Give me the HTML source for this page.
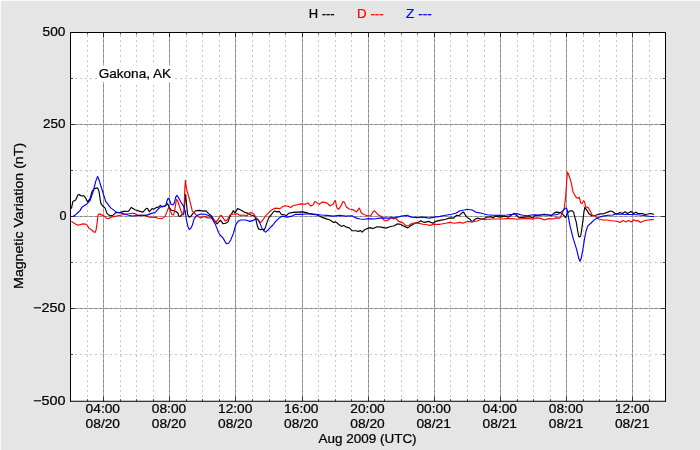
<!DOCTYPE html>
<html><head><meta charset="utf-8"><title>Gakona, AK magnetometer</title>
<style>
html,body{margin:0;padding:0;background:#e5e5e5;}
body{width:700px;height:450px;overflow:hidden;font-family:"Liberation Sans",sans-serif;}
svg{display:block;will-change:transform;}
svg text{font-family:"Liberation Sans",sans-serif;font-size:12.2px;fill:#000;stroke:#000;stroke-width:0.22px;}
</style></head><body>
<svg width="700" height="450" viewBox="0 0 700 450">
<rect x="0" y="0" width="700" height="450" fill="#e5e5e5"/>
<rect x="0" y="0" width="700" height="1" fill="#fbfbfb"/><rect x="0" y="0" width="1" height="450" fill="#fbfbfb"/>
<rect x="70.5" y="32.5" width="595.0" height="368.8" fill="#fff"/>
<g stroke="#c6c6c6" stroke-width="1" stroke-dasharray="2 3" fill="none">
<line x1="87.50" y1="32.5" x2="87.50" y2="401.2" stroke-dashoffset="2.5"/><line x1="120.50" y1="32.5" x2="120.50" y2="401.2" stroke-dashoffset="2.5"/><line x1="136.50" y1="32.5" x2="136.50" y2="401.2" stroke-dashoffset="2.5"/><line x1="153.50" y1="32.5" x2="153.50" y2="401.2" stroke-dashoffset="2.5"/><line x1="186.50" y1="32.5" x2="186.50" y2="401.2" stroke-dashoffset="2.5"/><line x1="202.50" y1="32.5" x2="202.50" y2="401.2" stroke-dashoffset="2.5"/><line x1="219.50" y1="32.5" x2="219.50" y2="401.2" stroke-dashoffset="2.5"/><line x1="252.50" y1="32.5" x2="252.50" y2="401.2" stroke-dashoffset="2.5"/><line x1="269.50" y1="32.5" x2="269.50" y2="401.2" stroke-dashoffset="2.5"/><line x1="285.50" y1="32.5" x2="285.50" y2="401.2" stroke-dashoffset="2.5"/><line x1="318.50" y1="32.5" x2="318.50" y2="401.2" stroke-dashoffset="2.5"/><line x1="335.50" y1="32.5" x2="335.50" y2="401.2" stroke-dashoffset="2.5"/><line x1="351.50" y1="32.5" x2="351.50" y2="401.2" stroke-dashoffset="2.5"/><line x1="384.50" y1="32.5" x2="384.50" y2="401.2" stroke-dashoffset="2.5"/><line x1="401.50" y1="32.5" x2="401.50" y2="401.2" stroke-dashoffset="2.5"/><line x1="417.50" y1="32.5" x2="417.50" y2="401.2" stroke-dashoffset="2.5"/><line x1="450.50" y1="32.5" x2="450.50" y2="401.2" stroke-dashoffset="2.5"/><line x1="467.50" y1="32.5" x2="467.50" y2="401.2" stroke-dashoffset="2.5"/><line x1="484.50" y1="32.5" x2="484.50" y2="401.2" stroke-dashoffset="2.5"/><line x1="517.50" y1="32.5" x2="517.50" y2="401.2" stroke-dashoffset="2.5"/><line x1="533.50" y1="32.5" x2="533.50" y2="401.2" stroke-dashoffset="2.5"/><line x1="550.50" y1="32.5" x2="550.50" y2="401.2" stroke-dashoffset="2.5"/><line x1="583.50" y1="32.5" x2="583.50" y2="401.2" stroke-dashoffset="2.5"/><line x1="599.50" y1="32.5" x2="599.50" y2="401.2" stroke-dashoffset="2.5"/><line x1="616.50" y1="32.5" x2="616.50" y2="401.2" stroke-dashoffset="2.5"/><line x1="649.50" y1="32.5" x2="649.50" y2="401.2" stroke-dashoffset="2.5"/>
<line x1="70.5" y1="78.5" x2="665.5" y2="78.5" stroke-dashoffset="0.5"/><line x1="70.5" y1="170.5" x2="665.5" y2="170.5" stroke-dashoffset="0.5"/><line x1="70.5" y1="262.5" x2="665.5" y2="262.5" stroke-dashoffset="0.5"/><line x1="70.5" y1="354.5" x2="665.5" y2="354.5" stroke-dashoffset="0.5"/>
</g>
<g stroke="#a8a8a8" stroke-width="1" fill="none">
<line x1="103.50" y1="32.5" x2="103.50" y2="401.2"/><line x1="169.50" y1="32.5" x2="169.50" y2="401.2"/><line x1="235.50" y1="32.5" x2="235.50" y2="401.2"/><line x1="302.50" y1="32.5" x2="302.50" y2="401.2"/><line x1="368.50" y1="32.5" x2="368.50" y2="401.2"/><line x1="434.50" y1="32.5" x2="434.50" y2="401.2"/><line x1="500.50" y1="32.5" x2="500.50" y2="401.2"/><line x1="566.50" y1="32.5" x2="566.50" y2="401.2"/><line x1="632.50" y1="32.5" x2="632.50" y2="401.2"/>
<line x1="70.5" y1="124.5" x2="665.5" y2="124.5"/><line x1="70.5" y1="216.5" x2="665.5" y2="216.5"/><line x1="70.5" y1="308.5" x2="665.5" y2="308.5"/>
</g>
<g stroke="#858585" stroke-width="1" stroke-dasharray="2 3" fill="none">
<line x1="103.50" y1="32.5" x2="103.50" y2="401.2" stroke-dashoffset="2.5"/><line x1="169.50" y1="32.5" x2="169.50" y2="401.2" stroke-dashoffset="2.5"/><line x1="235.50" y1="32.5" x2="235.50" y2="401.2" stroke-dashoffset="2.5"/><line x1="302.50" y1="32.5" x2="302.50" y2="401.2" stroke-dashoffset="2.5"/><line x1="368.50" y1="32.5" x2="368.50" y2="401.2" stroke-dashoffset="2.5"/><line x1="434.50" y1="32.5" x2="434.50" y2="401.2" stroke-dashoffset="2.5"/><line x1="500.50" y1="32.5" x2="500.50" y2="401.2" stroke-dashoffset="2.5"/><line x1="566.50" y1="32.5" x2="566.50" y2="401.2" stroke-dashoffset="2.5"/><line x1="632.50" y1="32.5" x2="632.50" y2="401.2" stroke-dashoffset="2.5"/>
<line x1="70.5" y1="124.5" x2="665.5" y2="124.5" stroke-dashoffset="0.5"/><line x1="70.5" y1="216.5" x2="665.5" y2="216.5" stroke-dashoffset="0.5"/><line x1="70.5" y1="308.5" x2="665.5" y2="308.5" stroke-dashoffset="0.5"/>
</g>
<g stroke="#000" stroke-width="0.7" fill="none">
<line x1="103.50" y1="401.2" x2="103.50" y2="396.8"/><line x1="103.50" y1="32.5" x2="103.50" y2="37.0"/><line x1="169.50" y1="401.2" x2="169.50" y2="396.8"/><line x1="169.50" y1="32.5" x2="169.50" y2="37.0"/><line x1="235.50" y1="401.2" x2="235.50" y2="396.8"/><line x1="235.50" y1="32.5" x2="235.50" y2="37.0"/><line x1="302.50" y1="401.2" x2="302.50" y2="396.8"/><line x1="302.50" y1="32.5" x2="302.50" y2="37.0"/><line x1="368.50" y1="401.2" x2="368.50" y2="396.8"/><line x1="368.50" y1="32.5" x2="368.50" y2="37.0"/><line x1="434.50" y1="401.2" x2="434.50" y2="396.8"/><line x1="434.50" y1="32.5" x2="434.50" y2="37.0"/><line x1="500.50" y1="401.2" x2="500.50" y2="396.8"/><line x1="500.50" y1="32.5" x2="500.50" y2="37.0"/><line x1="566.50" y1="401.2" x2="566.50" y2="396.8"/><line x1="566.50" y1="32.5" x2="566.50" y2="37.0"/><line x1="632.50" y1="401.2" x2="632.50" y2="396.8"/><line x1="632.50" y1="32.5" x2="632.50" y2="37.0"/><line x1="87.50" y1="401.2" x2="87.50" y2="399.1"/><line x1="87.50" y1="32.5" x2="87.50" y2="34.5"/><line x1="120.50" y1="401.2" x2="120.50" y2="399.1"/><line x1="120.50" y1="32.5" x2="120.50" y2="34.5"/><line x1="136.50" y1="401.2" x2="136.50" y2="399.1"/><line x1="136.50" y1="32.5" x2="136.50" y2="34.5"/><line x1="153.50" y1="401.2" x2="153.50" y2="399.1"/><line x1="153.50" y1="32.5" x2="153.50" y2="34.5"/><line x1="186.50" y1="401.2" x2="186.50" y2="399.1"/><line x1="186.50" y1="32.5" x2="186.50" y2="34.5"/><line x1="202.50" y1="401.2" x2="202.50" y2="399.1"/><line x1="202.50" y1="32.5" x2="202.50" y2="34.5"/><line x1="219.50" y1="401.2" x2="219.50" y2="399.1"/><line x1="219.50" y1="32.5" x2="219.50" y2="34.5"/><line x1="252.50" y1="401.2" x2="252.50" y2="399.1"/><line x1="252.50" y1="32.5" x2="252.50" y2="34.5"/><line x1="269.50" y1="401.2" x2="269.50" y2="399.1"/><line x1="269.50" y1="32.5" x2="269.50" y2="34.5"/><line x1="285.50" y1="401.2" x2="285.50" y2="399.1"/><line x1="285.50" y1="32.5" x2="285.50" y2="34.5"/><line x1="318.50" y1="401.2" x2="318.50" y2="399.1"/><line x1="318.50" y1="32.5" x2="318.50" y2="34.5"/><line x1="335.50" y1="401.2" x2="335.50" y2="399.1"/><line x1="335.50" y1="32.5" x2="335.50" y2="34.5"/><line x1="351.50" y1="401.2" x2="351.50" y2="399.1"/><line x1="351.50" y1="32.5" x2="351.50" y2="34.5"/><line x1="384.50" y1="401.2" x2="384.50" y2="399.1"/><line x1="384.50" y1="32.5" x2="384.50" y2="34.5"/><line x1="401.50" y1="401.2" x2="401.50" y2="399.1"/><line x1="401.50" y1="32.5" x2="401.50" y2="34.5"/><line x1="417.50" y1="401.2" x2="417.50" y2="399.1"/><line x1="417.50" y1="32.5" x2="417.50" y2="34.5"/><line x1="450.50" y1="401.2" x2="450.50" y2="399.1"/><line x1="450.50" y1="32.5" x2="450.50" y2="34.5"/><line x1="467.50" y1="401.2" x2="467.50" y2="399.1"/><line x1="467.50" y1="32.5" x2="467.50" y2="34.5"/><line x1="484.50" y1="401.2" x2="484.50" y2="399.1"/><line x1="484.50" y1="32.5" x2="484.50" y2="34.5"/><line x1="517.50" y1="401.2" x2="517.50" y2="399.1"/><line x1="517.50" y1="32.5" x2="517.50" y2="34.5"/><line x1="533.50" y1="401.2" x2="533.50" y2="399.1"/><line x1="533.50" y1="32.5" x2="533.50" y2="34.5"/><line x1="550.50" y1="401.2" x2="550.50" y2="399.1"/><line x1="550.50" y1="32.5" x2="550.50" y2="34.5"/><line x1="583.50" y1="401.2" x2="583.50" y2="399.1"/><line x1="583.50" y1="32.5" x2="583.50" y2="34.5"/><line x1="599.50" y1="401.2" x2="599.50" y2="399.1"/><line x1="599.50" y1="32.5" x2="599.50" y2="34.5"/><line x1="616.50" y1="401.2" x2="616.50" y2="399.1"/><line x1="616.50" y1="32.5" x2="616.50" y2="34.5"/><line x1="649.50" y1="401.2" x2="649.50" y2="399.1"/><line x1="649.50" y1="32.5" x2="649.50" y2="34.5"/><line x1="70.5" y1="124.5" x2="75.0" y2="124.5"/><line x1="665.5" y1="124.5" x2="661.0" y2="124.5"/><line x1="70.5" y1="216.5" x2="75.0" y2="216.5"/><line x1="665.5" y1="216.5" x2="661.0" y2="216.5"/><line x1="70.5" y1="308.5" x2="75.0" y2="308.5"/><line x1="665.5" y1="308.5" x2="661.0" y2="308.5"/><line x1="70.5" y1="78.5" x2="73.0" y2="78.5"/><line x1="665.5" y1="78.5" x2="663.0" y2="78.5"/><line x1="70.5" y1="170.5" x2="73.0" y2="170.5"/><line x1="665.5" y1="170.5" x2="663.0" y2="170.5"/><line x1="70.5" y1="262.5" x2="73.0" y2="262.5"/><line x1="665.5" y1="262.5" x2="663.0" y2="262.5"/><line x1="70.5" y1="354.5" x2="73.0" y2="354.5"/><line x1="665.5" y1="354.5" x2="663.0" y2="354.5"/>
</g>
<rect x="97" y="65.5" width="77" height="16.5" fill="#fff"/>
<text x="98.7" y="77.9" textLength="72.4" lengthAdjust="spacingAndGlyphs">Gakona, AK</text>
<g fill="none" stroke-width="1.15" stroke-linejoin="round" stroke-linecap="butt">
<polyline stroke="#000" points="71.4,208.6 72.9,201.4 75.7,200.0 77.9,195.0 79.3,194.6 81.4,196.0 83.6,195.7 85.7,197.9 87.6,202.1 90.0,198.6 92.1,191.4 94.3,188.6 97.6,187.9 99.0,191.4 100.7,202.9 102.4,205.7 105.0,207.9 107.1,213.6 110.0,215.7 112.9,215.4 115.7,212.6 120.0,212.6 123.6,211.4 128.6,211.1 131.4,207.4 135.0,209.7 139.3,211.1 142.9,212.1 146.4,208.3 147.9,208.9 149.3,211.7 152.1,208.6 153.6,209.3 156.4,207.4 157.9,207.4 160.4,205.4 162.1,206.9 165.7,205.7 167.6,203.6 169.3,207.4 171.4,210.3 174.3,210.7 175.7,211.4 177.9,212.9 178.6,216.0 180.0,216.4 182.1,214.3 183.6,214.6 184.3,210.0 185.0,198.6 185.6,194.6 186.4,202.9 187.6,214.3 189.0,217.1 190.7,216.4 192.9,213.6 195.7,210.7 199.3,210.4 203.6,211.1 205.7,210.7 208.6,213.6 211.4,215.7 213.6,219.3 215.7,222.1 217.1,224.0 219.3,221.4 220.7,220.3 222.9,223.6 225.7,223.3 227.9,222.1 230.0,216.4 232.1,212.9 233.3,210.7 235.0,212.9 237.6,208.6 240.7,210.0 245.0,212.4 248.6,213.6 250.7,215.0 253.6,215.7 255.0,217.1 255.7,218.6 257.1,225.0 258.6,229.0 260.7,229.6 262.9,229.3 264.3,230.0 265.7,226.4 267.1,222.1 268.6,218.1 270.0,216.4 272.1,213.6 274.3,211.0 277.1,211.9 279.3,211.4 281.4,214.3 284.3,214.7 286.4,215.7 288.6,213.3 292.9,212.4 297.1,212.1 302.9,211.9 307.1,212.9 311.4,214.3 317.1,215.0 321.4,217.1 325.7,218.6 330.0,220.0 333.6,222.4 335.7,221.9 338.6,224.3 341.4,226.4 343.6,225.4 346.4,227.1 349.3,227.9 352.1,230.7 355.7,230.7 358.6,231.4 360.3,230.4 362.1,232.1 364.3,230.0 367.1,228.6 370.0,227.6 372.9,228.6 377.1,226.7 381.4,227.1 385.7,228.1 390.0,226.7 394.3,225.7 397.1,223.9 400.7,224.3 404.3,226.4 407.9,227.9 411.4,225.3 415.0,223.3 418.6,222.4 420.7,220.7 424.3,222.4 428.6,221.4 432.9,223.3 435.7,221.4 440.0,220.4 445.7,219.3 450.0,217.9 453.6,218.1 456.4,215.3 459.3,215.7 461.4,213.3 463.6,212.1 465.7,215.7 467.9,217.9 470.0,219.3 472.1,221.9 475.0,219.3 477.9,218.1 480.7,219.0 484.3,218.6 487.1,217.1 491.4,216.7 492.9,217.9 495.7,216.1 500.0,217.1 504.3,216.1 508.6,217.1 511.4,215.0 514.3,213.3 516.4,215.3 519.3,217.9 524.3,217.1 530.0,216.7 532.9,218.1 535.0,215.3 538.6,215.7 540.0,215.0 544.3,214.3 548.6,215.0 551.4,215.7 554.3,212.9 556.4,212.1 560.7,212.6 562.9,214.3 565.7,217.6 567.1,213.6 569.3,211.1 572.1,210.7 573.6,212.1 575.0,217.9 576.3,222.3 577.7,231.0 578.9,237.0 580.6,236.5 581.7,229.5 582.9,220.9 583.9,212.2 584.9,207.2 586.8,210.1 589.0,213.7 591.1,215.4 592.9,215.7 595.7,215.3 600.0,213.9 604.3,213.6 607.9,211.9 610.7,211.0 612.5,211.5 615.0,213.5 618.0,213.5 620.0,212.5 622.5,213.5 625.0,211.8 627.5,213.5 631.0,211.5 633.5,213.5 636.0,212.2 638.0,213.5 642.0,213.5 645.0,214.5 648.0,214.0 650.0,213.5 652.0,213.8 654.0,214.5"/>
<polyline stroke="#f00" points="71.4,221.1 73.6,223.1 77.9,225.3 82.9,223.9 86.4,224.3 89.3,228.6 91.4,229.7 93.6,231.7 95.0,232.4 96.1,230.0 97.1,222.9 98.1,215.0 99.3,213.9 102.9,215.4 105.0,216.4 106.4,218.3 108.6,218.6 112.1,216.9 117.9,215.7 125.0,214.3 132.1,213.3 135.0,213.6 137.9,215.4 145.0,215.4 149.3,217.1 153.6,217.4 155.0,217.1 157.9,218.3 162.1,218.6 165.0,216.4 167.1,211.4 168.6,207.4 170.0,210.0 171.9,214.6 173.6,215.0 175.0,208.6 176.4,199.3 177.6,200.7 179.3,205.7 181.4,212.1 182.9,215.0 184.0,210.0 184.7,191.4 185.4,180.3 186.4,188.6 187.6,192.9 189.3,198.6 190.7,204.3 192.4,211.4 195.0,213.6 197.9,216.4 200.7,217.9 204.3,216.4 207.9,217.9 211.4,217.9 213.6,219.3 215.7,222.1 217.9,220.0 220.0,216.0 221.4,215.4 223.6,218.6 225.3,221.1 227.1,220.0 229.3,216.0 231.4,214.0 234.3,214.3 237.1,213.6 240.0,215.4 243.6,215.0 247.1,215.7 248.6,213.6 251.4,212.4 253.6,213.9 255.7,217.1 258.6,220.7 260.7,222.4 262.9,220.0 265.7,215.7 268.6,212.9 270.0,211.4 272.9,209.3 275.7,208.1 280.0,208.6 282.1,207.1 285.0,205.7 288.6,206.4 290.7,207.6 292.9,205.7 297.1,204.7 300.7,203.9 305.7,204.3 307.9,202.9 310.7,206.1 312.9,205.0 315.0,201.4 317.1,202.9 319.3,204.3 322.1,202.1 325.0,202.4 327.9,203.6 330.0,206.0 332.9,204.3 335.3,200.4 336.9,207.9 338.6,209.3 340.7,206.4 342.9,201.4 344.3,202.1 346.4,207.1 349.3,209.0 352.9,209.6 356.4,211.9 359.3,208.1 361.4,212.9 364.3,214.7 367.9,215.7 370.7,215.7 372.9,212.1 374.3,210.7 376.4,212.9 378.6,215.3 381.4,216.4 383.6,220.0 387.1,220.7 389.3,219.3 391.4,217.1 393.6,219.0 395.7,218.1 398.6,221.4 402.9,222.9 405.7,225.7 408.6,225.7 412.1,223.3 417.1,222.9 422.9,224.3 427.1,224.7 430.0,225.4 434.3,224.3 440.0,224.3 445.7,223.3 450.0,222.4 454.3,223.3 460.0,222.4 462.9,223.3 467.1,221.4 471.4,221.9 477.1,221.0 481.4,219.3 487.1,219.3 492.9,219.0 500.0,219.0 507.1,218.6 512.9,218.6 517.1,219.3 524.3,218.6 530.0,218.6 532.9,219.3 535.7,217.9 540.0,218.1 544.3,220.0 548.6,218.6 552.9,219.0 555.7,217.9 560.0,218.1 562.1,213.6 564.3,207.9 565.7,196.4 566.7,180.7 567.4,172.1 568.6,174.3 570.0,178.6 571.4,183.6 572.9,191.4 574.3,194.3 576.4,197.6 578.3,198.1 579.3,197.1 580.7,202.9 582.1,203.6 583.6,200.7 584.6,201.9 585.7,207.1 587.9,207.1 590.0,210.7 592.1,215.0 595.0,216.1 598.6,219.0 602.9,220.0 607.1,220.0 610.0,220.5 614.0,221.0 617.5,221.5 620.0,222.5 623.0,220.5 626.0,222.0 628.5,220.5 631.5,222.0 634.0,219.8 636.5,221.2 638.0,220.5 640.5,222.5 644.0,220.8 648.0,220.0 651.0,219.5 654.0,219.7"/>
<polyline stroke="#00f" points="71.2,216.5 73.3,216.3 75.5,214.8 78.0,212.5 80.0,210.6 82.1,206.9 86.4,204.3 90.0,200.7 93.6,190.0 95.7,181.4 97.6,176.4 99.3,180.7 102.1,190.0 105.7,201.4 110.7,207.9 116.4,212.1 122.1,213.3 127.9,215.0 132.1,216.0 139.3,215.4 146.4,215.4 150.7,213.6 155.0,212.6 157.9,209.3 160.7,206.9 165.7,205.7 167.1,200.7 168.1,198.3 169.3,199.3 171.0,204.3 172.9,205.0 174.3,202.9 175.7,197.1 176.9,195.3 178.6,197.9 180.7,201.7 183.6,206.4 185.3,211.4 186.4,220.0 187.9,226.4 189.2,229.5 190.7,228.6 192.4,225.0 193.9,219.3 196.4,215.7 200.7,214.0 205.0,214.3 209.3,215.7 212.1,218.6 215.0,223.6 217.1,228.6 218.5,232.5 220.0,235.0 222.9,237.9 225.0,241.4 226.4,243.6 228.6,243.3 230.7,240.0 233.6,232.9 235.7,225.0 237.9,221.4 240.7,220.0 245.7,220.0 250.0,221.4 252.9,220.4 255.7,219.3 257.9,219.3 260.0,223.6 262.1,228.6 264.3,231.4 265.7,232.1 267.9,230.0 270.0,227.9 272.9,225.0 275.7,221.4 279.3,217.9 282.1,216.1 287.1,217.1 292.1,216.1 295.7,214.3 302.9,214.3 310.0,213.6 315.7,214.3 321.4,215.0 327.1,215.4 332.9,216.1 340.0,215.4 345.7,216.1 352.1,215.7 355.7,217.9 360.0,219.0 364.3,219.3 368.6,218.6 374.3,219.0 381.4,217.9 388.6,218.1 395.7,217.6 401.4,216.1 407.1,215.4 411.4,217.1 417.1,217.6 422.9,217.1 429.3,218.1 434.3,217.1 440.0,216.4 445.7,215.3 451.4,214.3 455.7,213.3 460.0,210.7 464.3,210.0 467.1,209.3 472.1,210.0 475.7,212.1 481.4,213.3 487.1,214.7 492.9,215.3 500.0,215.4 507.1,215.0 512.9,214.3 517.1,213.6 521.4,215.0 527.1,215.7 532.9,214.7 538.6,215.0 547.1,215.0 554.3,215.0 557.9,214.3 561.4,212.1 564.3,209.3 566.0,207.9 567.1,209.3 568.0,215.1 570.2,226.6 573.1,238.2 576.7,249.7 578.9,259.1 580.0,261.3 581.0,259.1 582.9,249.7 584.6,238.2 586.1,231.0 587.8,225.9 591.1,223.0 594.7,219.4 599.1,217.3 602.9,216.1 608.6,215.3 613.0,215.0 615.0,214.2 620.0,214.3 630.0,214.5 638.0,214.8 644.0,215.5 649.0,216.2 654.0,216.5"/>
</g>
<g stroke="#000" stroke-width="1" fill="none"><line x1="70" y1="32.5" x2="666" y2="32.5"/><line x1="70" y1="401.25" x2="666" y2="401.25"/><line x1="70.5" y1="32" x2="70.5" y2="401.75"/><line x1="665.5" y1="32" x2="665.5" y2="401.75"/></g>
<text x="308.7" y="17.9" textLength="25.9" lengthAdjust="spacingAndGlyphs">H ---</text>
<text x="357.1" y="17.9" textLength="26.6" lengthAdjust="spacingAndGlyphs" style="fill:#f00;stroke:#f00">D ---</text>
<text x="406.1" y="17.9" textLength="25.6" lengthAdjust="spacingAndGlyphs" style="fill:#00f;stroke:#00f">Z ---</text>
<text x="42.6" y="35.7" textLength="22.8" lengthAdjust="spacingAndGlyphs">500</text>
<text x="43.0" y="127.7" textLength="22.4" lengthAdjust="spacingAndGlyphs">250</text>
<text x="59.4" y="219.7" textLength="7.0" lengthAdjust="spacingAndGlyphs">0</text>
<text x="33.0" y="311.7" textLength="32.4" lengthAdjust="spacingAndGlyphs">−250</text>
<text x="33.0" y="404.7" textLength="32.4" lengthAdjust="spacingAndGlyphs">−500</text>
<text x="85.6" y="412.8" textLength="34.4" lengthAdjust="spacingAndGlyphs">04:00</text><text x="85.6" y="428.0" textLength="34.4" lengthAdjust="spacingAndGlyphs">08/20</text>
<text x="151.8" y="412.8" textLength="34.4" lengthAdjust="spacingAndGlyphs">08:00</text><text x="151.8" y="428.0" textLength="34.4" lengthAdjust="spacingAndGlyphs">08/20</text>
<text x="218.0" y="412.8" textLength="34.4" lengthAdjust="spacingAndGlyphs">12:00</text><text x="218.0" y="428.0" textLength="34.4" lengthAdjust="spacingAndGlyphs">08/20</text>
<text x="284.1" y="412.8" textLength="34.4" lengthAdjust="spacingAndGlyphs">16:00</text><text x="284.1" y="428.0" textLength="34.4" lengthAdjust="spacingAndGlyphs">08/20</text>
<text x="350.3" y="412.8" textLength="34.4" lengthAdjust="spacingAndGlyphs">20:00</text><text x="350.3" y="428.0" textLength="34.4" lengthAdjust="spacingAndGlyphs">08/20</text>
<text x="416.4" y="412.8" textLength="34.4" lengthAdjust="spacingAndGlyphs">00:00</text><text x="416.4" y="428.0" textLength="34.4" lengthAdjust="spacingAndGlyphs">08/21</text>
<text x="482.6" y="412.8" textLength="34.4" lengthAdjust="spacingAndGlyphs">04:00</text><text x="482.6" y="428.0" textLength="34.4" lengthAdjust="spacingAndGlyphs">08/21</text>
<text x="548.8" y="412.8" textLength="34.4" lengthAdjust="spacingAndGlyphs">08:00</text><text x="548.8" y="428.0" textLength="34.4" lengthAdjust="spacingAndGlyphs">08/21</text>
<text x="614.9" y="412.8" textLength="34.4" lengthAdjust="spacingAndGlyphs">12:00</text><text x="614.9" y="428.0" textLength="34.4" lengthAdjust="spacingAndGlyphs">08/21</text>
<text x="318.6" y="443.2" textLength="98" lengthAdjust="spacingAndGlyphs">Aug 2009 (UTC)</text>
<text transform="translate(23.2,288.9) rotate(-90)" x="0" y="0" textLength="146" lengthAdjust="spacingAndGlyphs">Magnetic Variation (nT)</text>
</svg>
</body></html>
